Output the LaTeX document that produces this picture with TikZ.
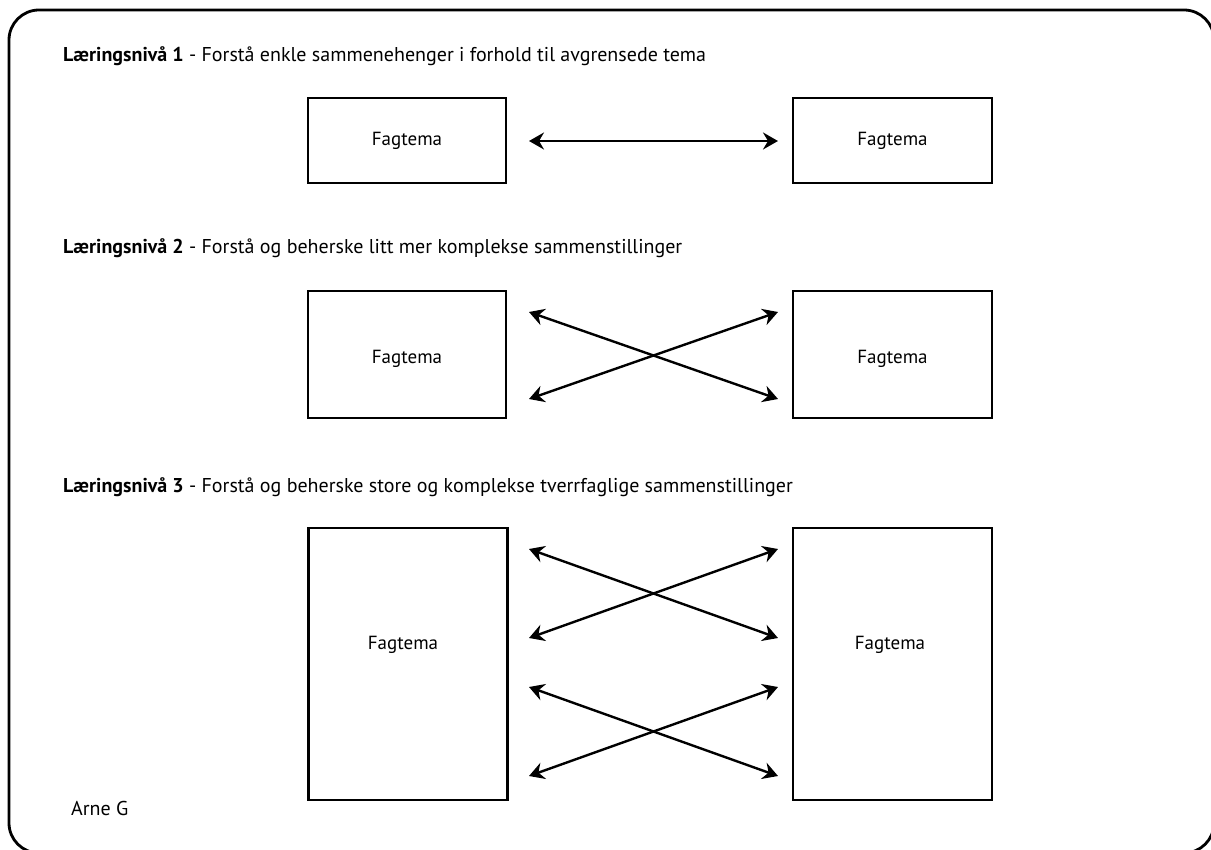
\documentclass[tikz,border=0pt]{standalone}
\usepackage{fontspec}
\setmainfont{PT Sans}
\usetikzlibrary{arrows.meta}
\begin{document}
\begin{tikzpicture}[x=1pt,y=-1pt,
  box/.style={draw,line width=2.4pt,inner sep=0pt},
  ttl/.style={anchor=base west,inner sep=0pt,font=\fontsize{20}{22}\selectfont},
  lbl/.style={inner sep=0pt,font=\fontsize{19}{21}\selectfont},
  dbl/.style={line width=2.4pt,{Stealth[length=15pt,width=17pt,inset=5pt]}-{Stealth[length=15pt,width=17pt,inset=5pt]}}
]
\useasboundingbox (0,0) rectangle (1211,850);
\draw[line width=2.8pt,rounded corners=30pt] (9,10) rectangle (1214,853);

\node[ttl] (t1) at (63,62) {\textbf{Læringsnivå 1} - Forstå enkle sammenehenger i forhold til avgrensede tema};
\node[ttl] (t2) at (63,254) {\textbf{Læringsnivå 2} - Forstå og beherske litt mer komplekse sammenstillinger};
\node[ttl] (t3) at (63,492) {\textbf{Læringsnivå 3} - Forstå og beherske store og komplekse tverrfaglige sammenstillinger};

% level 1
\node[box,minimum width=198pt,minimum height=85pt] (a1) at (407,140.5) {};
\node[box,minimum width=199pt,minimum height=85pt] (b1) at (892.5,140.5) {};
\node[lbl] (la1) at (a1.center) {Fagtema};
\node[lbl] (lb1) at (b1.center) {Fagtema};
\coordinate (a1p) at (529,141);
\coordinate (b1p) at (778,141);
\draw[dbl] (a1p) -- (b1p);

% level 2
\node[box,minimum width=198pt,minimum height=127pt] (a2) at (407,354.5) {};
\node[box,minimum width=199pt,minimum height=127pt] (b2) at (892.5,354.5) {};
\node[lbl] (la2) at ([yshift=-4pt]a2.center) {Fagtema};
\node[lbl] (lb2) at ([yshift=-4pt]b2.center) {Fagtema};
\coordinate (a2t) at (529,312);
\coordinate (a2b) at (529,399);
\coordinate (b2t) at (778,312);
\coordinate (b2b) at (778,399);
\draw[dbl] (a2t) -- (b2b);
\draw[dbl] (a2b) -- (b2t);

% level 3
\node[box,minimum width=199pt,minimum height=272pt] (a3) at (408,664) {};
\node[box,minimum width=199pt,minimum height=272pt] (b3) at (892.5,664) {};
\node[lbl] (la3) at (403,645) {Fagtema};
\node[lbl] (lb3) at (890,645) {Fagtema};
\coordinate (a3t1) at (529,549);
\coordinate (a3b1) at (529,638);
\coordinate (b3t1) at (778,549);
\coordinate (b3b1) at (778,638);
\coordinate (a3t2) at (529,687);
\coordinate (a3b2) at (529,776);
\coordinate (b3t2) at (778,687);
\coordinate (b3b2) at (778,776);
\draw[dbl] (a3t1) -- (b3b1);
\draw[dbl] (a3b1) -- (b3t1);
\draw[dbl] (a3t2) -- (b3b2);
\draw[dbl] (a3b2) -- (b3t2);

\node[lbl,anchor=base west,font=\fontsize{20}{22}\selectfont] (sig) at (71,815) {Arne G};
\end{tikzpicture}
\end{document}
